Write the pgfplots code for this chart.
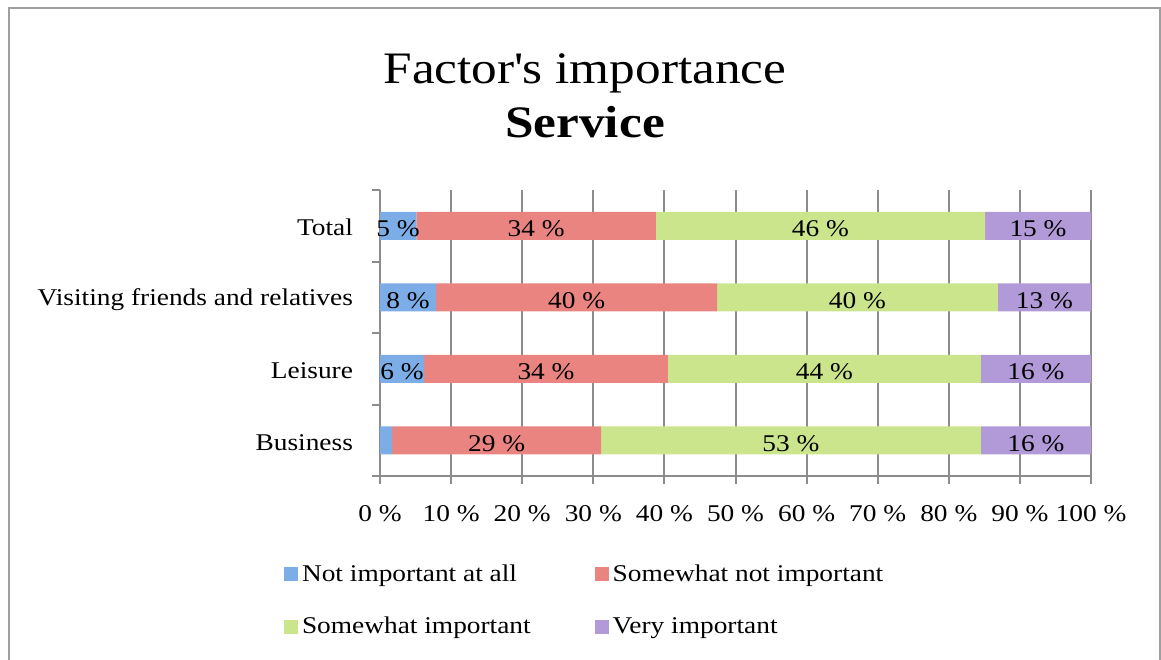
\documentclass[border=0pt]{standalone}
\usepackage{pgfplots}
\pgfplotsset{compat=1.18}
\usepackage{pgfplotstable}
\usepackage{fontspec}
\setmainfont{Liberation Serif}[FakeStretch=1.14]

\definecolor{cblue}{HTML}{7DADE6}
\definecolor{cred}{HTML}{EA8480}
\definecolor{cgreen}{HTML}{CBE58C}
\definecolor{cpur}{HTML}{B29AD8}
\definecolor{gridgray}{HTML}{8C8C8C}

% y: 0 Business, 1 Leisure, 2 VFR, 3 Total
\pgfplotstableread{
y v lab
0 1.7 0
1 6.2 6
2 7.9 8
3 5.1 5
}\tblA
\pgfplotstableread{
y v lab
0 29.4 29
1 34.3 34
2 39.5 40
3 33.7 34
}\tblB
\pgfplotstableread{
y v lab
0 53.4 53
1 44.0 44
2 39.5 40
3 46.3 46
}\tblC
\pgfplotstableread{
y v lab
0 15.5 16
1 15.5 16
2 13.1 13
3 14.9 15
}\tblD

\newcommand{\lfont}{\fontsize{12}{14}\selectfont}

\begin{document}
\begin{tikzpicture}[x=1pt,y=1pt]
\path[use as bounding box] (0,0) rectangle (580.5,-329.5);
\draw[color=gray!75, line width=1pt] (4.5,-4) rectangle (580,-340);
\node[anchor=base, font=\fontsize{22.5}{27}\selectfont] at (292.5,-41.5) {Factor\textquotesingle s importance};
\node[anchor=base, font=\fontsize{22.5}{27}\selectfont\bfseries] at (292.5,-68.5) {Service};
\begin{axis}[
  at={(190pt,-238pt)}, anchor=south west,
  scale only axis, width=355.5pt, height=143pt,
  xbar stacked, bar width=14pt,
  xmin=0, xmax=100, ymin=-0.5, ymax=3.5,
  xtick={0,10,...,100},
  xticklabel={\pgfmathprintnumber[assume math mode=true]{\tick}~\%},
  ytick={0,1,2,3},
  yticklabels={Business,Leisure,Visiting friends and relatives,Total},
  minor ytick={-0.5,0.5,1.5,2.5,3.5},
  axis x line*=bottom, axis y line*=left,
  axis line style={gridgray, line width=1pt, -},
  tick align=outside,
  major tick length=4pt, minor tick length=4pt,
  major y tick style={draw=none},
  minor y tick style={gridgray, line width=1pt},
  major x tick style={gridgray, line width=1pt},
  xmajorgrids, major grid style={gridgray, line width=1pt},
  ticklabel style={font=\lfont, text=black},
  yticklabel style={xshift=-6pt, yshift=-1pt},
  xticklabel style={yshift=-7pt},
  point meta=explicit symbolic,
  nodes near coords={\ifnum\pgfplotspointmeta=0 \else\pgfplotspointmeta~\%\fi},
  every node near coord/.append style={font=\lfont, text=black, anchor=center, yshift=-1.5pt},
  legend columns=2,
  legend cell align=left,
  legend image code/.code={\fill[#1] (0pt,-3.5pt) rectangle (7pt,3.5pt);},
  legend style={at={(axis description cs:-0.144,-0.28)}, anchor=north west,
     draw=none, fill=none, font=\lfont, row sep=12.5pt,
     /tikz/every even column/.append style={column sep=30pt}},
]
\addplot[draw=none, fill=cblue] table[x=v, y=y, meta=lab] \tblA;
\addplot[draw=none, fill=cred] table[x=v, y=y, meta=lab] \tblB;
\addplot[draw=none, fill=cgreen] table[x=v, y=y, meta=lab] \tblC;
\addplot[draw=none, fill=cpur] table[x=v, y=y, meta=lab] \tblD;
\legend{Not important at all, Somewhat not important, Somewhat important, Very important}
\end{axis}
\end{tikzpicture}
\end{document}
